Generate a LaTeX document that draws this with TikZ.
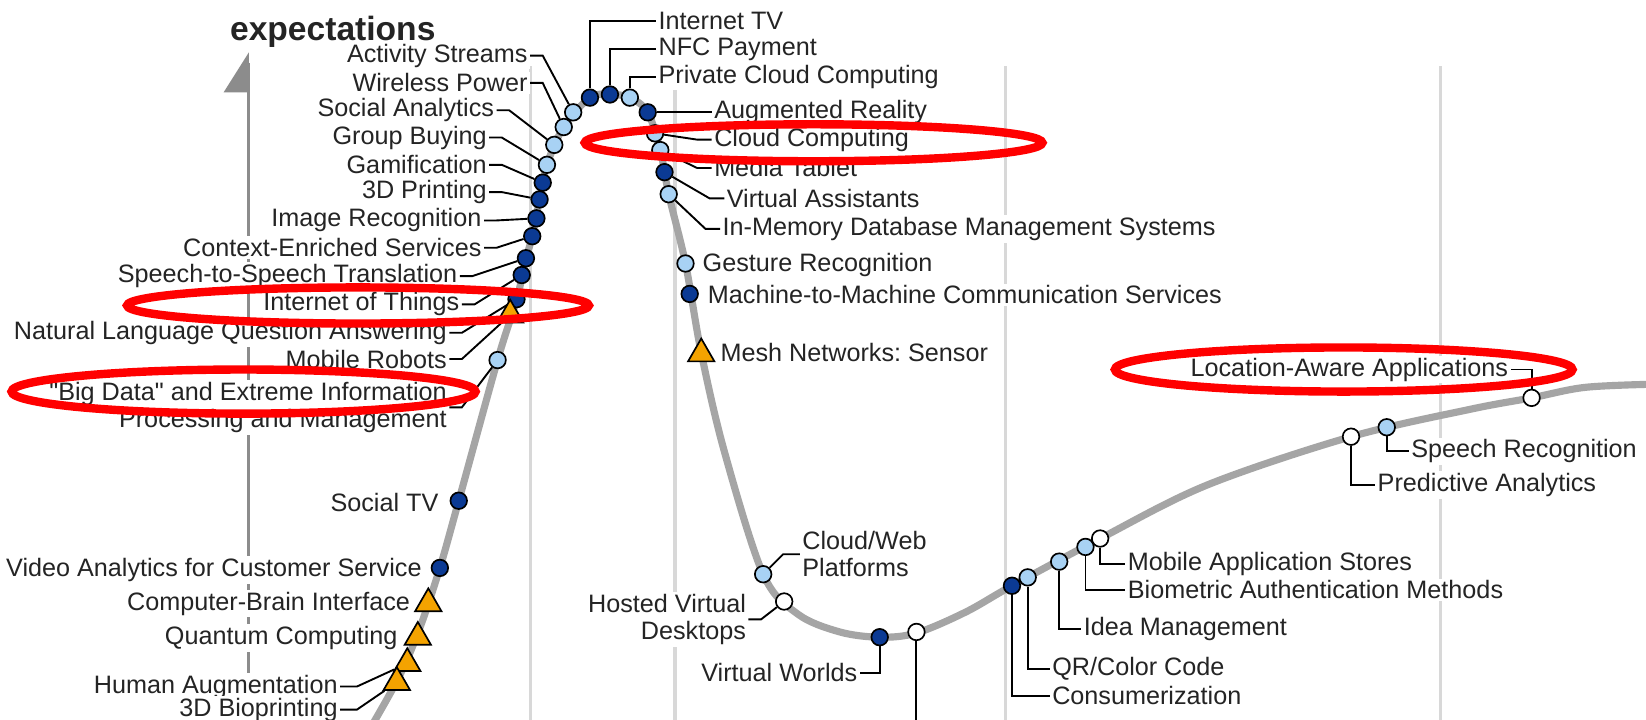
\documentclass[tikz,border=0pt]{standalone}
\usepackage{fontspec}
\setmainfont{Liberation Sans}[Ligatures=TeXOff]
\usetikzlibrary{shapes.geometric}
\pgfdeclarelayer{grid}
\pgfdeclarelayer{wire}
\pgfdeclarelayer{top}
\pgfsetlayers{grid,wire,main,top}
\definecolor{navy}{HTML}{0B3A94}
\definecolor{sky}{HTML}{A8D2F4}
\definecolor{amber}{HTML}{F4A300}
\definecolor{track}{HTML}{A5A5A5}
\definecolor{gridgray}{HTML}{D8D8D8}
\definecolor{axisgray}{HTML}{8C8C8C}
\definecolor{ink}{HTML}{242424}
\definecolor{hilite}{HTML}{FF0000}
\frenchspacing
\begin{document}
\begin{tikzpicture}[x=0.5pt,y=-0.5pt,
  lab/.style={font=\fontsize{12}{13}\selectfont, text=ink, fill=white, inner sep=1pt},
  bead/.style={circle, draw=black, line width=0.8pt, minimum size=7.9pt, inner sep=0pt},
  dk/.style={bead, fill=navy},
  lt/.style={bead, fill=sky},
  wt/.style={bead, fill=white},
  tri/.style={regular polygon, regular polygon sides=3, draw=black, line width=0.8pt,
              fill=amber, minimum size=14.5pt, inner sep=0pt},
  lead/.style={draw=black, line width=0.9pt},
  ring/.style={draw=hilite, line width=4pt},
  gridline/.style={draw=gridgray, line width=1.5pt},
  axisline/.style={draw=axisgray, line width=1.3pt},
  trackline/.style={draw=track, line width=3.4pt, line cap=round},
]
\useasboundingbox (0,0) rectangle (1568,685);

% ---------- background: grid and axis ----------
\begin{pgfonlayer}{grid}
  \fill[white] (0,0) rectangle (1568,685);
  \foreach \gx in {505,643,958,1372} \draw[gridline] (\gx,63) -- (\gx,690);
  \draw[axisline] (237,60) -- (237,690);
  \fill[axisgray] (237,50) -- (213,88) -- (237,88) -- cycle;
\end{pgfonlayer}

\node[font=\bfseries\fontsize{16}{18}\selectfont, text=ink] (l-exp) at (317,30) {expectations};

% ---------- markers on the curve ----------
\node[lt] (d-as) at (546,107) {};
\node[lt] (d-wp) at (537,121) {};
\node[lt] (d-sa) at (528,138) {};
\node[lt] (d-gb) at (521,157) {};
\node[dk] (d-gm) at (517,174) {};
\node[dk] (d-3d) at (514,190) {};
\node[dk] (d-ir) at (511,208) {};
\node[dk] (d-ce) at (507,225) {};
\node[dk] (d-ss) at (501,246) {};
\node[dk] (d-iot) at (497,262) {};
\node[dk] (d-nl) at (492,285) {};
\node[tri] (d-mr) at (486,300) {};
\node[lt] (d-bd) at (474,343) {};
\node[dk] (d-stv) at (437,477) {};
\node[dk] (d-vacs) at (419,541) {};
\node[tri] (d-cbi) at (408,575) {};
\node[tri] (d-qc) at (398,607) {};
\node[tri] (d-ha) at (388,632) {};
\node[tri] (d-bp) at (378,650) {};
\node[dk] (d-itv) at (562,93) {};
\node[dk] (d-nfc) at (581,90) {};
\node[lt] (d-pcc) at (600,93) {};
\node[dk] (d-ar) at (617,107) {};
\node[lt] (d-cc) at (624,127) {};
\node[lt] (d-mt) at (629,143) {};
\node[dk] (d-vas) at (633,164) {};
\node[lt] (d-imdb) at (637,185) {};
\node[lt] (d-gr) at (653,251) {};
\node[dk] (d-m2m) at (657,280) {};
\node[tri] (d-mesh) at (668,337) {};
\node[lt] (d-cwp) at (727,547) {};
\node[wt] (d-hvd) at (747,573) {};
\node[dk] (d-vw) at (838,607) {};
\node[wt] (d-low) at (873,602) {};
\node[dk] (d-cons) at (964,558) {};
\node[lt] (d-qr) at (979,550) {};
\node[lt] (d-im) at (1009,535) {};
\node[lt] (d-bam) at (1034,521) {};
\node[wt] (d-mas) at (1048,513) {};
\node[wt] (d-pa) at (1287,416) {};
\node[lt] (d-sr) at (1321,407) {};
\node[wt] (d-laa) at (1459,379) {};
\coordinate (low-end) at (873,700);

% ---------- labels, left of the curve ----------
\node[lab, anchor=east] (l-as) at (505,53) {Activity Streams};
\node[lab, anchor=east] (l-wp) at (505,79) {Wireless Power};
\node[lab, anchor=east] (l-sa) at (473,105) {Social Analytics};
\node[lab, anchor=east] (l-gb) at (466,131) {Group Buying};
\node[lab, anchor=east] (l-gm) at (466,157) {Gamification};
\node[lab, anchor=east] (l-3d) at (466,183) {3D Printing};
\node[lab, anchor=east] (l-ir) at (461,210) {Image Recognition};
\node[lab, anchor=east] (l-ce) at (461,236) {Context-Enriched Services};
\node[lab, anchor=east] (l-ss) at (438,263) {Speech-to-Speech Translation};
\node[lab, anchor=east] (l-iot) at (440,290) {Internet of Things};
\node[lab, anchor=east] (l-nl) at (428,317) {Natural Language Question Answering};
\node[lab, anchor=east] (l-mr) at (428,342) {Mobile Robots};
\node[lab, anchor=east, align=right] (l-bd) at (428,388) {"Big Data" and Extreme Information\\Processing and Management};
\node[lab, anchor=east] (l-stv) at (420,479) {Social TV};
\node[lab, anchor=east] (l-vacs) at (404,543) {Video Analytics for Customer Service};
\node[lab, anchor=east] (l-cbi) at (393,575) {Computer-Brain Interface};
\node[lab, anchor=east] (l-qc) at (381,608) {Quantum Computing};
\node[lab, anchor=east] (l-ha) at (324,654) {Human Augmentation};
\node[lab, anchor=east] (l-bp) at (324,676) {3D Bioprinting};

% ---------- labels, right of the curve ----------
\node[lab, anchor=west] (l-itv) at (625,20) {Internet TV};
\node[lab, anchor=west] (l-nfc) at (625,47) {NFC Payment};
\node[lab, anchor=west] (l-pcc) at (625,73) {Private Cloud Computing};
\node[lab, anchor=west] (l-ar) at (678,107) {Augmented Reality};
\node[lab, anchor=west] (l-cc) at (678,133) {Cloud Computing};
\node[lab, anchor=west] (l-mt) at (678,160) {Media Tablet};
\node[lab, anchor=west] (l-vas) at (690,189) {Virtual Assistants};
\node[lab, anchor=west] (l-imdb) at (686,218) {In-Memory Database Management Systems};
\node[lab, anchor=west] (l-gr) at (667,252) {Gesture Recognition};
\node[lab, anchor=west] (l-m2m) at (672,281) {Machine-to-Machine Communication Services};
\node[lab, anchor=west] (l-mesh) at (684,336) {Mesh Networks: Sensor};
\node[lab, anchor=west, align=left] (l-cwp) at (762,528) {Cloud/Web\\Platforms};
\node[lab, anchor=east, align=right] (l-hvd) at (713,590) {Hosted Virtual\\Desktops};
\node[lab, anchor=east] (l-vw) at (819,641) {Virtual Worlds};
\node[lab, anchor=west] (l-qr) at (1000,637) {QR/Color Code};
\node[lab, anchor=west] (l-cons) at (1000,663) {Consumerization};
\node[lab, anchor=west] (l-im) at (1030,599) {Idea Management};
\node[lab, anchor=west] (l-mas) at (1072,537) {Mobile Application Stores};
\node[lab, anchor=west] (l-bam) at (1072,562) {Biometric Authentication Methods};
\node[lab, anchor=west] (l-sr) at (1342,430) {Speech Recognition};
\node[lab, anchor=west] (l-pa) at (1310,462) {Predictive Analytics};
\node[lab, anchor=east] (l-laa) at (1439,352) {Location-Aware Applications};

% ---------- curve and leader lines ----------
\begin{pgfonlayer}{wire}
  \draw[trackline] plot[smooth, tension=0.55] coordinates {
    (352,695) (380,645) (400,598) (419,541) (437,477) (474,343) (492,286)
    (501,247) (507,225) (514,190) (521,157) (537,121) (562,93) (581,90)
    (600,93) (617,107) (629,143) (637,185) (653,251) (668,336) (690,430)
    (727,547) (760,585) (800,602) (838,607) (873,603) (920,583) (964,558)
    (1048,513) (1150,462) (1287,416) (1400,390) (1459,379) (1510,369) (1575,366)};
  \foreach \k in {as,wp,sa,gb,gm,3d,ir,ce,ss,iot,nl,mr,bd}
    \draw[lead] (l-\k.east) -- ++(12,0) -- (d-\k);
  \foreach \k in {ha,bp}
    \draw[lead] (l-\k.east) -- ++(16,0) -- (d-\k);
  \foreach \k in {itv,nfc,pcc}
    \draw[lead] (d-\k) |- (l-\k.west);
  \draw[lead] (d-ar) -- (l-ar.west);
  \foreach \k in {cc,mt,vas,imdb}
    \draw[lead] (l-\k.west) -- ++(-14,0) -- (d-\k);
  \draw[lead] (l-cwp.west) -- ++(-16,0) -- (d-cwp);
  \draw[lead] (l-hvd.east) -- ++(12,0) -- (d-hvd);
  \draw[lead] (d-vw) |- (l-vw.east);
  \draw[lead] (d-low) -- (low-end);
  \foreach \k in {cons,qr,im,bam,mas,pa,sr}
    \draw[lead] (d-\k) |- (l-\k.west);
  \draw[lead] (d-laa) |- (l-laa.east);
\end{pgfonlayer}

% ---------- red highlight rings ----------
\begin{pgfonlayer}{top}
  \draw[ring] (775,136) ellipse [x radius=109pt, y radius=8.8pt];
  \draw[ring] (341,291) ellipse [x radius=110pt, y radius=8.6pt];
  \draw[ring] (232,373) ellipse [x radius=110.5pt, y radius=10.5pt];
  \draw[ring] (1280,352) ellipse [x radius=109pt, y radius=10.5pt];
\end{pgfonlayer}
\end{tikzpicture}
\end{document}
